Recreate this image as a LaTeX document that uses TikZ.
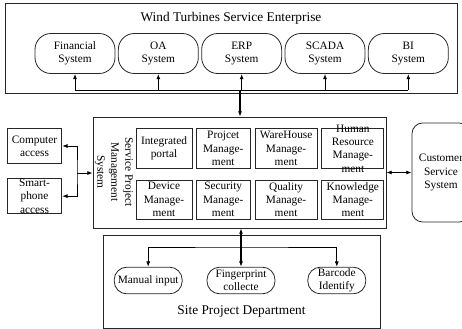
\documentclass[tikz,border=0pt]{standalone}
\usepackage{fontspec}
\setmainfont{Liberation Serif}
\usetikzlibrary{positioning,arrows.meta}
\newcommand{\boxfont}{\fontsize{8.5}{10}\selectfont}
\newcommand{\titlefont}{\fontsize{10}{12}\selectfont}

\begin{document}
\begin{tikzpicture}[x=0.75pt,y=-0.75pt,>={Latex[length=4pt,width=3pt]},
    every node/.style={font=\boxfont,align=center},
    frame/.style={draw=black!85,line width=0.6pt},
    sysbox/.style={frame,rounded corners=12pt,minimum width=60pt,minimum height=30pt,inner sep=0pt},
    modbox/.style={frame,minimum width=#1,minimum height=29.5pt,inner sep=0pt},
    modbox/.default=44pt,
    accbox/.style={frame,minimum width=41pt,minimum height=26pt,inner sep=0pt},
    devbox/.style={frame,rounded corners=9.5pt,minimum width=#1,minimum height=20pt,inner sep=0pt},
    link/.style={line width=0.6pt},
    mainlink/.style={line width=1.5pt}]
    \useasboundingbox (0,0) rectangle (462,329);
    % enterprise
    \node[frame,minimum width=339pt,minimum height=67.5pt] (ent) at (231,48) {};
    \node[font=\titlefont] (enttitle) at (231,18) {Wind Turbines Service Enterprise};
    \node[sysbox] (fin) at (75,53.5) {Financial\\System};
    \node[sysbox,right=1.9pt of fin] (oa) {OA\\System};
    \node[sysbox,right=1.9pt of oa] (erp) {ERP\\System};
    \node[sysbox,right=1.9pt of erp] (scada) {SCADA\\System};
    \node[sysbox,right=1.9pt of scada] (bi) {BI\\System};
    \coordinate (bus) at (240,90);
    \draw[link] (bus -| fin) -- (bus -| bi);
    \foreach \s in {fin,oa,erp,scada,bi}
      \draw[link,->] (bus -| \s) -- (\s);
    % service project management system
    \node[frame,minimum width=219.75pt,minimum height=83.25pt] (sps) at (239.5,172.5) {};
    \draw[mainlink,->] (bus) -- (bus |- sps.north);
    \node[rotate=-90,font=\fontsize{8.5}{10.5}\selectfont] (spsname) at (114,172) {Service Project\\Management\\System};
    \node[modbox=42pt] (portal) at (164,148.5) {Integrated\\portal};
    \node[modbox=40.5pt,right=2.6pt of portal] (proj) {Projcet\\Manage-\\ment};
    \node[modbox=46.5pt,right=3pt of proj] (ware) {WareHouse\\Manage-\\ment};
    \node[modbox=46.5pt,right=3pt of ware] (hr) {};
    \node (hrtext) at (hr) {Human\\Resource\\Manage-\\ment};
    \node[modbox=42pt,below=8.25pt of portal] (dev) {Device\\Manage-\\ment};
    \node[modbox=40.5pt,below=8.25pt of proj] (sec) {Security\\Manage-\\ment};
    \node[modbox=46.5pt,below=8.25pt of ware] (qual) {Quality\\Manage-\\ment};
    \node[modbox=46.5pt,below=8.25pt of hr] (know) {Knowledge\\Manage-\\ment};
    % access
    \node[accbox] (pc) at (34.5,146) {Computer\\access};
    \node[accbox,below=11pt of pc] (phone) {};
    \node (phonetext) at (phone) {Smart-\\phone\\access};
    \coordinate (junc) at (77,173);
    \draw[link,<->] (pc) -| (junc) |- (phone);
    \draw[link,->] (junc) -- (junc -| sps.west);
    % customer
    \node[frame,rounded corners=8pt,minimum width=43.5pt,minimum height=74.25pt] (cust) at (441,172.5) {Customer\\Service\\System};
    \draw[link,<->] (sps) -- (cust);
    % site
    \node[frame,minimum width=207.75pt,minimum height=69.75pt] (site) at (241.5,281.5) {};
    \node[font=\titlefont] (sitetitle) at (241.5,312) {Site Project Department};
    \node[devbox=51pt] (fp) at (241,280.5) {Fingerprint\\collecte};
    \node[devbox=51pt,left=18pt of fp] (man) {Manual input};
    \node[devbox=43.5pt,right=24pt of fp] (bar) {Barcode\\Identify};
    \coordinate (dbus) at (241,247);
    \draw[link,<->] (man) |- (dbus) -| (bar);
    \draw[mainlink,<->] (fp |- sps.south) -- (fp);
  \end{tikzpicture}
\end{document}
